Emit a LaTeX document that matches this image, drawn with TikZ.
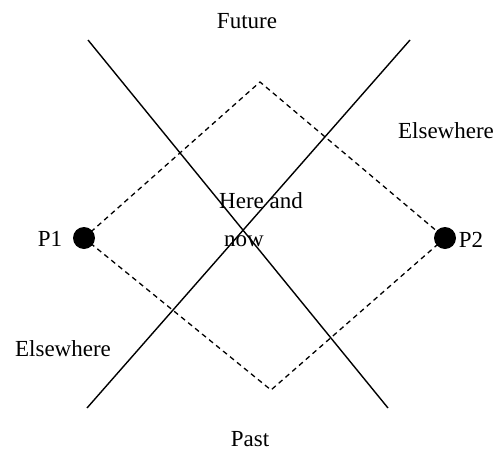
\documentclass[tikz,border=0pt]{standalone}
\usepackage{fontspec}
\setmainfont{Liberation Serif}
\begin{document}
\begin{tikzpicture}[x=1pt,y=-1pt,
  lbl/.style={font=\fontsize{23}{38}\selectfont, inner sep=0pt, anchor=base},
  axis/.style={line width=1.4pt, black},
  cone/.style={line width=1.3pt, black, dash pattern=on 5pt off 4pt},
  event/.style={circle, fill=black, minimum size=22pt, inner sep=0pt}]
\useasboundingbox (0,0) rectangle (496,461);
\coordinate (la) at (88,40);
\coordinate (lb) at (388,408);
\coordinate (ra) at (410,40);
\coordinate (rb) at (87,408);
\coordinate (dtop) at (260,82);
\coordinate (dbot) at (271,390);
\coordinate (dl) at (84,238);
\coordinate (dr) at (445,238);
\draw[axis] (la) -- (lb);
\draw[axis] (ra) -- (rb);
\draw[cone] (dl) -- (dtop) -- (dr) -- (dbot) -- cycle;
\node[event] (p1) at (dl) {};
\node[event] (p2) at (dr) {};
\node[lbl] (fut) at (247,28) {Future};
\node[lbl] (past) at (250,446) {Past};
\node[lbl] (ewr) at (446,138) {Elsewhere};
\node[lbl] (ewl) at (63,356) {Elsewhere};
\node[lbl] (l1) at (50,246) {P1};
\node[lbl] (l2) at (471,247) {P2};
\node[lbl, anchor=base west, align=left] (here) at (219,246) {Here and\\\hspace*{5pt}now};
\end{tikzpicture}
\end{document}
